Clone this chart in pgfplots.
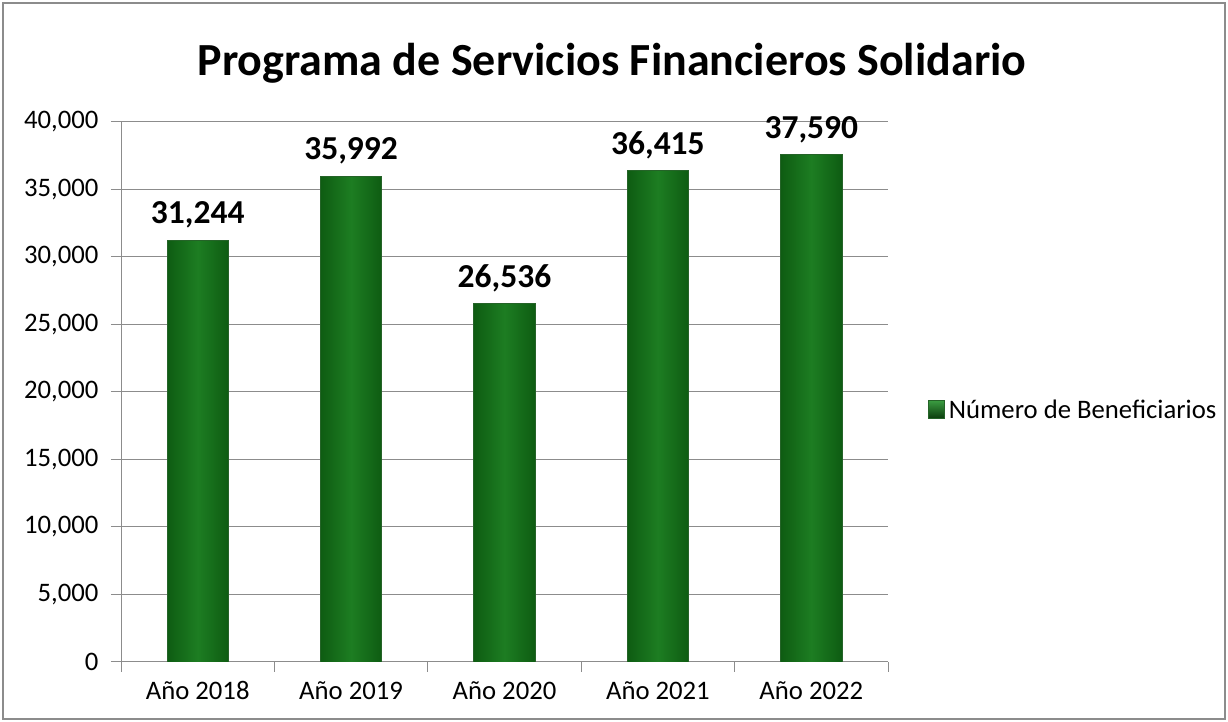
\documentclass[border=0pt]{standalone}
\usepackage{fontspec}
\setmainfont{Carlito}
\usepackage{pgfplots}
\pgfplotsset{compat=1.18}
\definecolor{barmid}{HTML}{1D7D22}
\definecolor{baredge}{HTML}{0E5C12}
\definecolor{legtop}{HTML}{3A9A40}
\definecolor{legbot}{HTML}{0A3A0C}
\definecolor{gridc}{HTML}{8C8C8C}
\begin{document}
\begin{tikzpicture}[x=1bp,y=1bp]
\useasboundingbox (0,0) rectangle (1228,722);
\draw[gridc, line width=1.2bp] (3,3) rectangle (1225,719);
\node[font=\bfseries\fontsize{46bp}{50bp}\selectfont] at (612,659) {Programa de Servicios Financieros Solidario};
\begin{axis}[
  at={(121bp,60bp)}, anchor=south west,
  width=767bp, height=540bp, scale only axis,
  ymin=0, ymax=40000, ytick={0,5000,...,40000},
  xmin=-0.5, xmax=4.5,
  xtick={-0.5,0.5,1.5,2.5,3.5,4.5},
  xticklabels={Año 2018,Año 2019,Año 2020,Año 2021,Año 2022,},
  xticklabel style={xshift=76.7bp, yshift=-6bp},
  yticklabel style={xshift=-9bp},
  axis x line*=bottom, axis y line*=left,
  axis line style={gridc, -, line width=1bp},
  tick style={gridc, line width=1bp},
  tick align=outside, major tick length=10bp,
  ymajorgrids, grid style={gridc, line width=1bp},
  /pgf/number format/1000 sep={,},
  /pgf/number format/assume math mode=true,
  scaled y ticks=false,
  tick label style={font=\fontsize{26.7bp}{30bp}\selectfont},
  legend style={at={(1.052,0.467)}, anchor=west, draw=none, fill=none,
    font=\fontsize{26.7bp}{30bp}\selectfont, inner sep=0pt, nodes={inner xsep=4bp}},
  legend image code/.code={\fill[top color=legtop, bottom color=legbot] (0bp,-9bp) rectangle (16bp,9bp);},
  barstyle/.style={ybar, bar width=0.40, bar shift=0pt, draw=baredge!80!gray, line width=0.8bp,
    left color=baredge, right color=baredge, middle color=barmid,
    nodes near coords,
    every node near coord/.append style={font=\bfseries\fontsize{33.5bp}{36bp}\selectfont, text=black, anchor=south, yshift=8bp}},
]
\addplot[barstyle] coordinates {(0,31244)};
\addlegendentry{Número de Beneficiarios}
\addplot[barstyle, forget plot] coordinates {(1,35992)};
\addplot[barstyle, forget plot] coordinates {(2,26536)};
\addplot[barstyle, forget plot] coordinates {(3,36415)};
\addplot[barstyle, forget plot] coordinates {(4,37590)};
\end{axis}
\end{tikzpicture}
\end{document}
